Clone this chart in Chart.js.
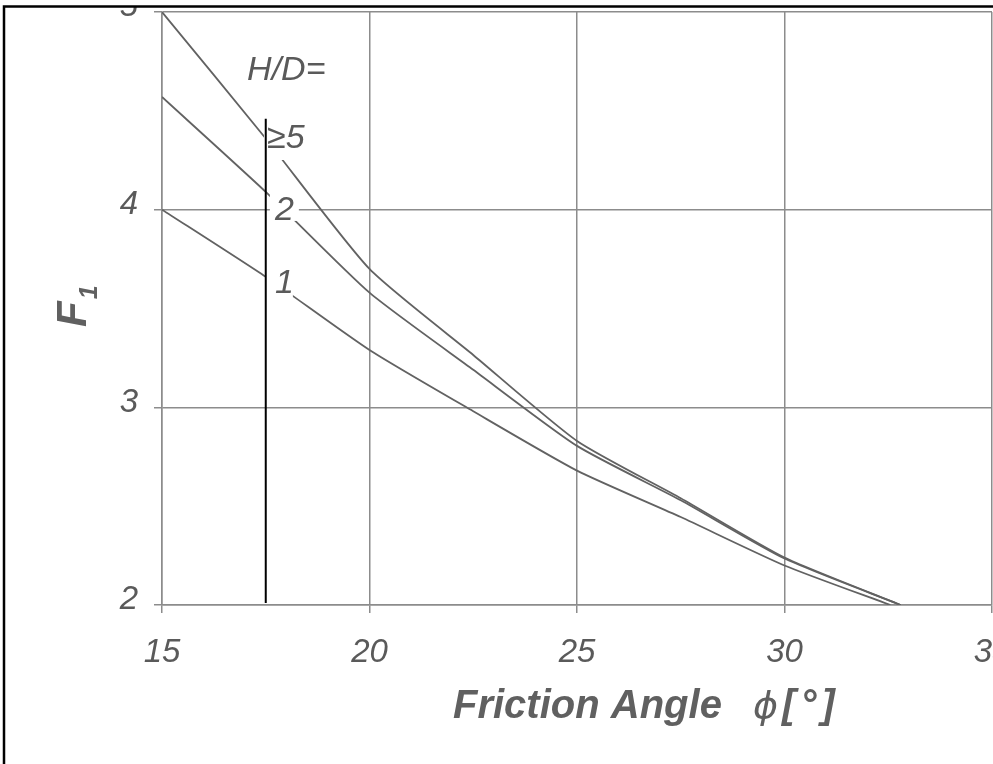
<!DOCTYPE html>
<html><head><meta charset="utf-8">
<script src="https://cdn.jsdelivr.net/npm/chart.js@4/dist/chart.umd.min.js"></script>
<style>html,body{margin:0;padding:0;background:#fff;overflow:hidden}canvas{display:block}</style>
</head><body><canvas id="c" width="993" height="764"></canvas>
<script>
// ---- data ----
const phi_HD5 = [15, 17.5, 20, 22.5, 25, 27.5, 30, 32.8];
const F_HD5   = [5.0, 4.36, 3.70, 3.265, 2.83, 2.54, 2.24, 2.0];
const phi_HD2 = [15, 17.5, 20, 22.5, 25, 27.5, 30, 32.8];
const F_HD2   = [4.57, 4.09, 3.58, 3.19, 2.805, 2.53, 2.235, 2.0];
const phi_HD1 = [15, 17.5, 20, 22.5, 25, 27.5, 30, 32.55];
const F_HD1   = [4.0, 3.66, 3.29, 2.98, 2.68, 2.445, 2.20, 2.0];
const markerPhi = [17.5, 17.5];
const markerF   = [4.46, 2.01];
const xTicks = [15, 20, 25, 30, 35];
const yTicks = [2, 3, 4, 5];
const curveLabels = ['H/D=', '\u22655', '2', '1'];
const labelPhi = [17.05, 17.53, 17.72, 17.72];
const labelF   = [4.656, 4.312, 3.948, 3.579];
const xTitle = ['Friction Angle', '\u03D5', '[\u00B0]'];
const yTitle = ['F', '1'];

const pts = (xs, ys) => xs.map((x, i) => ({x, y: ys[i]}));
const GRID = '#8c8c8c';
const CURVE = '#626262';
const TXT = '#5a5a5a';
const FONT = '"Liberation Sans", Arial, sans-serif';

// label white boxes (px relative to text anchor): [dx0, dy0, dx1, dy1]
const labelBoxes = [null, [-3, -28, 44, 12], [-5, -28, 24, 1], [-9, -22, 18, 5]];

const labelPlugin = {
  id: 'labels',
  beforeDatasetDraw(chart, args) {
    if (args.index !== 3) return;
    const ctx = chart.ctx, xs = chart.scales.x, ys = chart.scales.y;
    ctx.save();
    ctx.font = 'italic 34px ' + FONT;
    ctx.textBaseline = 'alphabetic';
    ctx.textAlign = 'left';
    curveLabels.forEach((t, i) => {
      const px = xs.getPixelForValue(labelPhi[i]);
      const py = ys.getPixelForValue(labelF[i]);
      const b = labelBoxes[i];
      if (b) {
        ctx.fillStyle = '#fff';
        ctx.fillRect(px + b[0], py + b[1], b[2] - b[0], b[3] - b[1]);
      }
      ctx.fillStyle = TXT;
      ctx.fillText(t, px, py);
    });
    ctx.restore();
  },
  afterDraw(chart) {
    const ctx = chart.ctx, a = chart.chartArea;
    ctx.save();
    // x axis title
    ctx.fillStyle = '#606060';
    ctx.textBaseline = 'alphabetic';
    ctx.textAlign = 'left';
    let x = a.left + 291;
    const base = 718;
    ctx.font = 'italic bold 40px ' + FONT;
    ctx.fillText(xTitle[0], x, base);
    x = a.left + 591;
    ctx.font = 'italic 38px "DejaVu Sans", ' + FONT;
    ctx.fillText(xTitle[1], x, base);
    x += ctx.measureText(xTitle[1]).width + 4;
    ctx.font = 'italic bold 40px ' + FONT;
    ctx.letterSpacing = '5px';
    ctx.fillText(xTitle[2], x, base);
    ctx.letterSpacing = '0px';
    // y axis title F_1 rotated
    ctx.translate(86, 327);
    ctx.rotate(-Math.PI / 2);
    ctx.font = 'italic bold 42px ' + FONT;
    ctx.fillText(yTitle[0], 0, 0);
    const w = ctx.measureText(yTitle[0]).width;
    ctx.font = 'italic bold 25px ' + FONT;
    ctx.fillText(yTitle[1], w + 2, 11);
    ctx.restore();
    // scan frame (top & left)
    ctx.save();
    ctx.fillStyle = '#fff';
    ctx.fillRect(0, 0, chart.width, 6);
    ctx.fillRect(0, 0, 4, chart.height);
    ctx.strokeStyle = '#000';
    ctx.lineWidth = 2.5;
    ctx.beginPath();
    ctx.moveTo(4, chart.height);
    ctx.lineTo(4, 6.5);
    ctx.lineTo(chart.width, 6.5);
    ctx.stroke();
    ctx.restore();
  }
};

const curve = (data) => ({
  data, borderColor: CURVE, borderWidth: 1.8, pointRadius: 0, tension: 0.2,
  fill: false, order: 1
});

new Chart(document.getElementById('c'), {
  type: 'line',
  data: {
    datasets: [
      Object.assign(curve(pts(phi_HD5, F_HD5)), {label: 'H/D \u2265 5'}),
      Object.assign(curve(pts(phi_HD2, F_HD2)), {label: 'H/D = 2'}),
      Object.assign(curve(pts(phi_HD1, F_HD1)), {label: 'H/D = 1'}),
      {label: 'marker', data: pts(markerPhi, markerF), borderColor: '#000', borderWidth: 2,
       pointRadius: 0, fill: false, order: -1}
    ]
  },
  options: {
    responsive: false,
    animation: false,
    events: [],
    layout: {padding: {top: 12, left: 0, right: 1, bottom: 0}},
    plugins: {legend: {display: false}, tooltip: {enabled: false}, title: {display: false}},
    scales: {
      x: {
        type: 'linear', min: 15, max: 35,
        afterBuildTicks: s => { s.ticks = xTicks.map(v => ({value: v})); },
        afterFit: s => { s.height = 159; s.paddingLeft = 0; s.paddingRight = 0; },
        ticks: {autoSkip: false, maxRotation: 0, padding: 20, color: TXT,
                font: {family: FONT, size: 33, style: 'italic'}},
        grid: {color: GRID, lineWidth: 1.5, tickLength: 8, tickColor: GRID},
        border: {color: GRID, width: 1.5}
      },
      y: {
        type: 'linear', min: 2, max: 5,
        afterBuildTicks: s => { s.ticks = yTicks.map(v => ({value: v})); },
        afterFit: s => { s.width = 162; s.paddingTop = 0; s.paddingBottom = 0; },
        ticks: {autoSkip: false, padding: 16, color: TXT, labelOffset: -5,
                font: {family: FONT, size: 33, style: 'italic'}},
        grid: {color: GRID, lineWidth: 1.5, tickLength: 8, tickColor: GRID},
        border: {color: GRID, width: 1.5}
      }
    }
  },
  plugins: [labelPlugin]
});
</script>
</body></html>
